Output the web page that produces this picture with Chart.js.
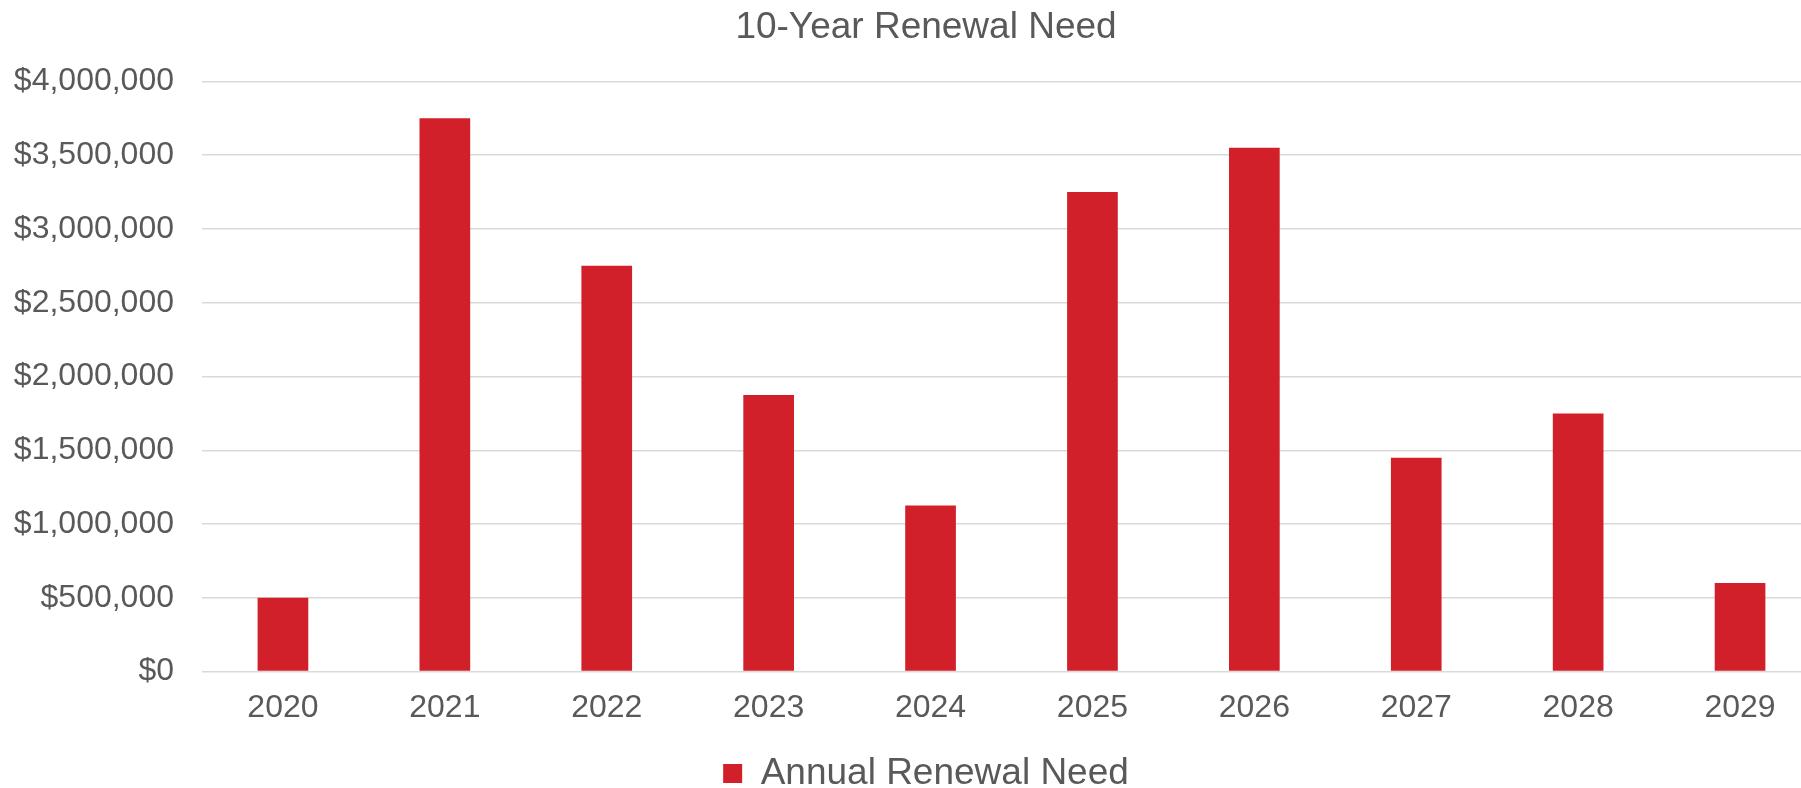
<!DOCTYPE html>
<html>
<head>
<meta charset="utf-8">
<title>10-Year Renewal Need</title>
<script src="https://cdn.jsdelivr.net/npm/chart.js@4"></script>
<style>
    html, body { margin: 0; padding: 0; overflow: hidden; background: #fff; }
    #wrap { width: 1852px; height: 802px; }
</style>
</head>
<body>
<div id="wrap"><canvas id="myChart"></canvas></div>
<script>
// Data tahunan
var tahun = ['2020', '2021', '2022', '2023', '2024', '2025', '2026', '2027', '2028', '2029'];
var renewalNeed = [500000, 3750000, 2750000, 1875000, 1125000, 3250000, 3550000, 1450000, 1750000, 600000];
var yTicks = [0, 500000, 1000000, 1500000, 2000000, 2500000, 3000000, 3500000, 4000000];

var abu = '#595959';
var garis = '#d9d9d9';

var ctx = document.getElementById('myChart').getContext('2d');
var myChart = new Chart(ctx, {
    type: 'bar',
    data: {
        labels: tahun,
        datasets: [{
            label: 'Annual Renewal Need',
            data: renewalNeed,
            backgroundColor: 'rgb(209, 32, 41)',
            borderWidth: 0,
            barPercentage: 0.313,
            categoryPercentage: 1
        }]
    },
    options: {
        responsive: true,
        maintainAspectRatio: false,
        animation: false,
        layout: { padding: 0 },
        plugins: {
            title: {
                display: true,
                text: '10-Year Renewal Need',
                color: abu,
                font: { family: 'Liberation Sans, Arial, sans-serif', size: 37, weight: 'normal' },
                padding: { top: 6, bottom: 31 }
            },
            legend: {
                position: 'bottom',
                labels: {
                    color: abu,
                    font: { family: 'Liberation Sans, Arial, sans-serif', size: 37 },
                    boxWidth: 19,
                    boxHeight: 19,
                    padding: 0
                }
            },
            tooltip: { enabled: false }
        },
        scales: {
            x: {
                grid: { display: false },
                border: { display: false },
                ticks: {
                    color: abu,
                    padding: 9,
                    font: { family: 'Liberation Sans, Arial, sans-serif', size: 32 }
                },
                afterFit: function (axis) { axis.height += 19; }
            },
            y: {
                min: 0,
                max: 4000000,
                afterBuildTicks: function (axis) {
                    axis.ticks = yTicks.map(function (v) { return { value: v }; });
                },
                grid: { color: garis, lineWidth: 1.5, drawTicks: false },
                border: { display: false },
                ticks: {
                    color: abu,
                    padding: 28,
                    font: { family: 'Liberation Sans, Arial, sans-serif', size: 32 },
                    callback: function (v) { return '$' + Number(v).toLocaleString('en-US'); }
                },
                afterFit: function (axis) { axis.width = 202; }
            },
            // sumbu kosong di kanan, hanya untuk ruang
            kanan: {
                type: 'linear',
                position: 'right',
                grid: { display: false, drawOnChartArea: false },
                border: { display: false },
                ticks: { display: false },
                afterFit: function (axis) { axis.width = 31; }
            }
        }
    }
});
</script>
</body>
</html>
